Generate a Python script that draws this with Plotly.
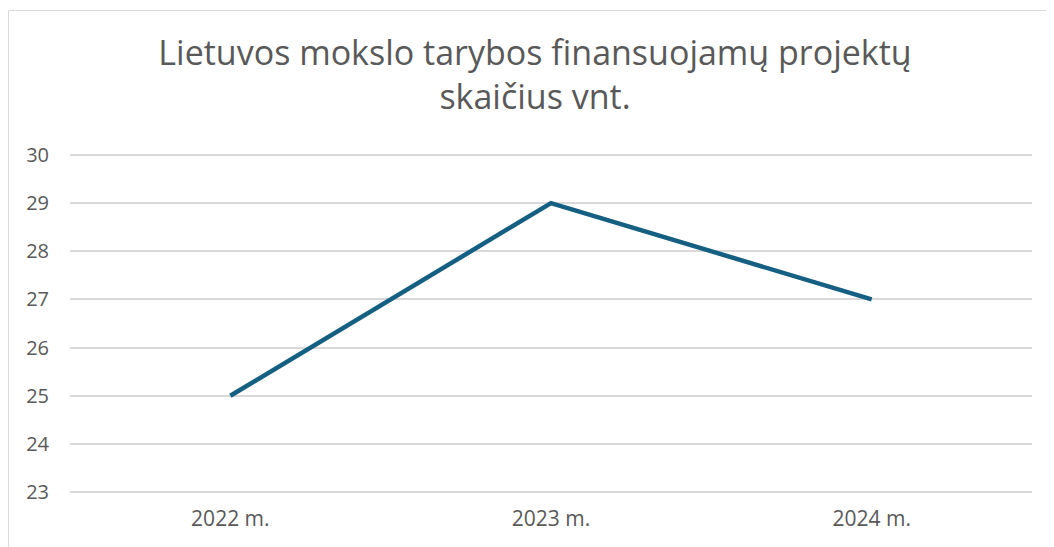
import plotly.graph_objects as go

categories = ["2022 m.", "2023 m.", "2024 m."]
values = [25, 29, 27]
y_ticks = [23, 24, 25, 26, 27, 28, 29, 30]
title_text = "Lietuvos mokslo tarybos finansuojamų projektų<br>skaičius vnt."

# page body adds an 8px offset; figure sized to compensate
W, H = 1046, 539
ml, mr, mt, mb = 62, 22, 145, 53
pw = W - ml - mr
ph = H - mt - mb

fig = go.Figure()
fig.add_trace(go.Scatter(
    x=categories, y=values, mode="lines",
    line=dict(color="#156082", width=4.5),
    hoverinfo="skip", showlegend=False,
))

# chart frame (left and top border visible)
fx0 = (0.5 - ml) / pw
fy1 = (H - mb - 2.5) / ph
fig.add_shape(type="rect", xref="paper", yref="paper",
              x0=fx0, x1=(W + 20 - ml) / pw, y0=-1, y1=fy1,
              line=dict(color="#d9d9d9", width=1), layer="below")

fig.update_layout(
    width=W, height=H,
    margin=dict(l=ml, r=mr, t=mt, b=mb),
    paper_bgcolor="white", plot_bgcolor="white",
    font=dict(family="Open Sans", color="#595959", size=20),
    title=dict(text=title_text, x=(535 - 8) / W, xanchor="center",
               y=1 - 57 / H, yanchor="middle",
               font=dict(size=34, color="#595959")),
    xaxis=dict(type="category", range=[-0.5, 2.5], showgrid=False,
               showline=False, zeroline=False, ticks="",
               ticklabelstandoff=10,
               tickfont=dict(size=21, color="#595959")),
    yaxis=dict(range=[22.96, 30.04], tickvals=y_ticks, showgrid=True,
               gridcolor="#d9d9d9", gridwidth=1.5, zeroline=False,
               showline=False, ticks="", ticklabelstandoff=20,
               tickfont=dict(size=20, color="#595959")),
)

fig.write_html("out.html")
